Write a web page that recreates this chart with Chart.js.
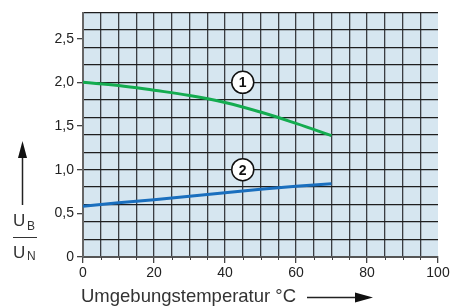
<!DOCTYPE html>
<html>
<head>
<meta charset="utf-8">
<script src="https://cdn.jsdelivr.net/npm/chart.js@4"></script>
<style>
  html, body { margin: 0; padding: 0; background: #fff; }
  #wrap { width: 470px; height: 306px; }
</style>
</head>
<body>
<div id="wrap"><canvas id="c" width="470" height="306"></canvas></div>
<script>
// Werte
const temps = [0, 10, 20, 30, 40, 50, 60, 70];
const curve1 = [2.0, 1.965, 1.91, 1.85, 1.77, 1.66, 1.53, 1.39];
const curve2 = [0.58, 0.62, 0.655, 0.695, 0.735, 0.775, 0.81, 0.84];
const markerLabels = ['1', '2'];
const markerX = [45, 45];
const markerY = [2.0, 1.0];
const xTickLabels = [0, 20, 40, 60, 80, 100];
const yTickLabels = ['0', '0,5', '1,0', '1,5', '2,0', '2,5'];

const FONT = 'Arial, "Liberation Sans", Helvetica, sans-serif';
const INK = '#222';

const toPoints = (xs, ys) => xs.map((x, i) => ({ x: x, y: ys[i] }));

// Hintergrund, Nebenstriche, Markierungen und Achsentitel
const decor = {
  id: 'decor',
  beforeDraw(chart) {
    const { ctx, chartArea: a } = chart;
    ctx.save();
    ctx.fillStyle = '#d6e6f0';
    ctx.fillRect(a.left, a.top, a.right - a.left, a.bottom - a.top);
    ctx.restore();
  },
  afterDraw(chart) {
    const { ctx, chartArea: a, scales } = chart;
    const xs = scales.x;
    ctx.save();
    // kurze Striche unter der x-Achse
    ctx.strokeStyle = '#444';
    ctx.lineWidth = 1;
    for (let v = 5; v < 100; v += 5) {
      if (v % 20 === 0) continue;
      const px = Math.round(xs.getPixelForValue(v)) + 0.5;
      ctx.beginPath();
      ctx.moveTo(px, a.bottom);
      ctx.lineTo(px, a.bottom + 3);
      ctx.stroke();
    }
    // Kreisnummern
    const meta = chart.getDatasetMeta(2);
    ctx.fillStyle = '#111';
    ctx.font = 'bold 14px ' + FONT;
    ctx.textAlign = 'center';
    ctx.textBaseline = 'middle';
    meta.data.forEach((pt, i) => {
      ctx.fillText(markerLabels[i], pt.x, pt.y + 1);
    });
    // x-Achsentitel mit Pfeil
    ctx.fillStyle = '#333';
    ctx.font = '18.5px ' + FONT;
    ctx.textAlign = 'left';
    ctx.fillText('Umgebungstemperatur °C', 81, 297);
    ctx.strokeStyle = '#222';
    ctx.lineWidth = 1.5;
    ctx.beginPath();
    ctx.moveTo(307, 297.5);
    ctx.lineTo(358, 297.5);
    ctx.stroke();
    ctx.fillStyle = '#111';
    ctx.beginPath();
    ctx.moveTo(373, 297.5);
    ctx.lineTo(355, 292.5);
    ctx.lineTo(355, 302.5);
    ctx.closePath();
    ctx.fill();
    // y-Achsentitel: Pfeil und UB/UN
    ctx.beginPath();
    ctx.moveTo(22.5, 205);
    ctx.lineTo(22.5, 156);
    ctx.stroke();
    ctx.beginPath();
    ctx.moveTo(22.5, 141);
    ctx.lineTo(18, 158);
    ctx.lineTo(27, 158);
    ctx.closePath();
    ctx.fill();
    ctx.fillStyle = '#333';
    ctx.font = '17px ' + FONT;
    ctx.textAlign = 'left';
    ctx.fillText('U', 13, 221.5);
    ctx.fillText('U', 13, 253.5);
    ctx.font = '12px ' + FONT;
    ctx.fillText('B', 27, 227);
    ctx.fillText('N', 27, 256.5);
    ctx.strokeStyle = '#333';
    ctx.lineWidth = 1;
    ctx.beginPath();
    ctx.moveTo(13, 237.5);
    ctx.lineTo(37, 237.5);
    ctx.stroke();
    ctx.restore();
  }
};

new Chart(document.getElementById('c'), {
  type: 'line',
  data: {
    datasets: [
      {
        label: '1',
        data: toPoints(temps, curve1),
        borderColor: '#14ac50',
        borderWidth: 3,
        pointRadius: 0,
        tension: 0.4,
        fill: false
      },
      {
        label: '2',
        data: toPoints(temps, curve2),
        borderColor: '#1a6fbe',
        borderWidth: 3,
        pointRadius: 0,
        tension: 0.4,
        fill: false
      },
      {
        label: 'marker',
        type: 'scatter',
        data: toPoints(markerX, markerY),
        pointRadius: 11,
        pointBackgroundColor: '#fff',
        pointBorderColor: '#111',
        pointBorderWidth: 1.5,
        showLine: false
      }
    ]
  },
  options: {
    responsive: false,
    animation: false,
    layout: { padding: { top: 9, right: 32, left: 0, bottom: 0 } },
    plugins: {
      legend: { display: false },
      tooltip: { enabled: false }
    },
    scales: {
      x: {
        type: 'linear',
        min: 0,
        max: 100,
        afterFit(s) { s.height = 49; },
        border: { color: '#555', width: 2 },
        grid: {
          color: ctx => (ctx.tick && ctx.tick.value > 0 && ctx.tick.value < 100) ? '#3a3d42' : 'transparent',
          lineWidth: 1.3,
          tickLength: 6,
          tickColor: ctx => (ctx.tick && xTickLabels.includes(ctx.tick.value)) ? '#444' : 'transparent'
        },
        ticks: {
          stepSize: 5,
          autoSkip: false,
          maxRotation: 0,
          padding: 2,
          color: INK,
          font: { family: FONT, size: 14 },
          callback: v => xTickLabels.includes(v) ? String(v) : ''
        }
      },
      y: {
        min: 0,
        max: 2.8,
        afterFit(s) { s.width = 83; },
        border: { color: '#666', width: 2 },
        grid: {
          color: ctx => {
            if (!ctx.tick) return 'transparent';
            const k = Math.round(ctx.tick.value * 10);
            return (k % 2 === 0 && k > 0) ? '#1e1e1e' : 'transparent';
          },
          lineWidth: 1.3,
          tickLength: 6,
          tickColor: ctx => {
            if (!ctx.tick) return 'transparent';
            const k = Math.round(ctx.tick.value * 10);
            return (k % 5 === 0) ? '#444' : 'transparent';
          }
        },
        ticks: {
          stepSize: 0.1,
          autoSkip: false,
          padding: 3,
          color: INK,
          font: { family: FONT, size: 14 },
          callback: v => {
            const k = Math.round(v * 10);
            return (k % 5 === 0 && k / 5 < yTickLabels.length) ? yTickLabels[k / 5] : '';
          }
        }
      }
    }
  },
  plugins: [decor]
});
</script>
</body>
</html>
